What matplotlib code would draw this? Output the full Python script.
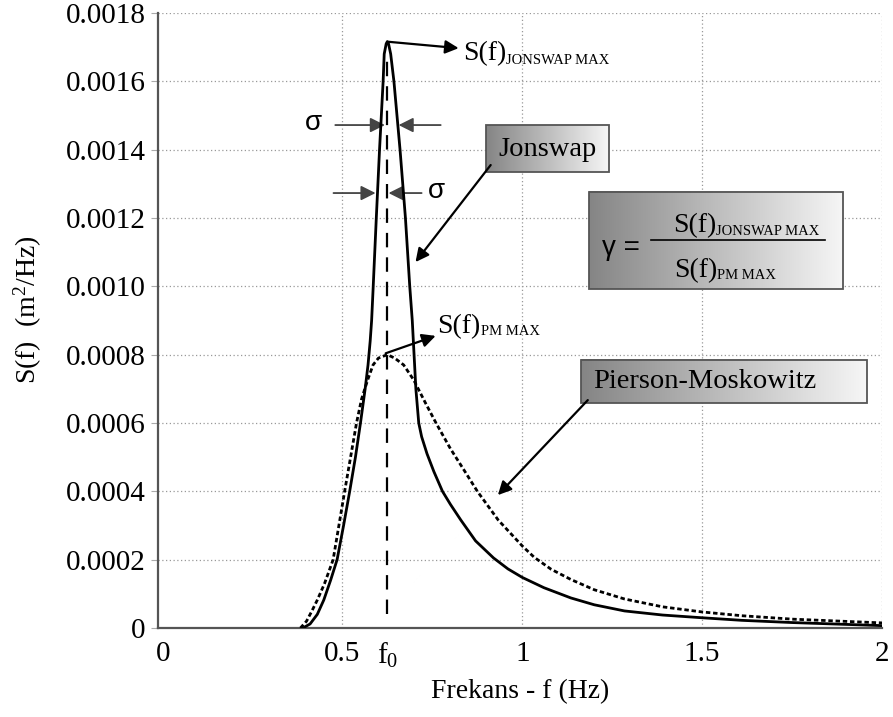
import numpy as np
import matplotlib
matplotlib.use('Agg')
import matplotlib.pyplot as plt
from matplotlib.colors import LinearSegmentedColormap
from matplotlib.patches import Rectangle
from matplotlib.transforms import offset_copy

# values
pm_f = [0.383, 0.40, 0.415, 0.43, 0.45, 0.474, 0.506, 0.539, 0.553, 0.570, 0.585, 0.60,
        0.6245, 0.645, 0.67, 0.698, 0.73, 0.76, 0.80, 0.838, 0.875, 0.933, 1.0, 1.033,
        1.08, 1.135, 1.2, 1.284, 1.39, 1.5, 1.61, 1.75, 2.0]
pm_s = [0.0, 0.00002, 0.00005, 0.000082, 0.00013, 0.0002, 0.0004, 0.0006, 0.00067,
        0.000726, 0.00077, 0.00079, 0.0008, 0.00079, 0.00077, 0.000726, 0.00066, 0.0006,
        0.000525, 0.000462, 0.0004, 0.000316, 0.00024, 0.000207, 0.000172, 0.000142,
        0.000112, 0.000085, 0.000062, 0.000047, 0.000036, 0.000026, 0.000015]

js_f = [0.39, 0.41, 0.43, 0.448, 0.467, 0.485, 0.503, 0.52, 0.536, 0.55, 0.563, 0.571,
        0.577, 0.581, 0.585, 0.594, 0.603, 0.613, 0.616, 0.6215, 0.6245, 0.628, 0.634,
        0.643, 0.660, 0.675, 0.687, 0.694, 0.699, 0.704, 0.712, 0.72, 0.735, 0.754,
        0.778, 0.80, 0.829, 0.87, 0.92, 0.96, 1.0, 1.06, 1.135, 1.2, 1.284, 1.39, 1.5,
        1.61, 1.75, 2.0]
js_s = [0.0, 0.000012, 0.00004, 0.000082, 0.00014, 0.0002, 0.0003, 0.0004, 0.0005,
        0.0006, 0.0007, 0.00077, 0.00084, 0.0009, 0.00099, 0.0012, 0.0014, 0.0016,
        0.00168, 0.00171, 0.001716, 0.00171, 0.00168, 0.0016, 0.0014, 0.0012, 0.0010,
        0.0009, 0.0008, 0.0007, 0.0006, 0.00056, 0.00051, 0.000458, 0.0004, 0.000362,
        0.000316, 0.000255, 0.000205, 0.000173, 0.000148, 0.000118, 0.000088, 0.000068,
        0.00005, 0.000038, 0.00003, 0.0000225, 0.000016, 0.000007]

f0 = 0.6245
js_max = 0.001716
pm_max = 0.0008

x_ticks = [0, 0.5, f0, 1, 1.5, 2]
x_labels = ['0', '0.5', r'f$_0$', '1', '1.5', '2']
y_ticks = [0, 0.0002, 0.0004, 0.0006, 0.0008, 0.0010, 0.0012, 0.0014, 0.0016, 0.0018]
y_labels = ['0', '0.0002', '0.0004', '0.0006', '0.0008', '0.0010', '0.0012',
            '0.0014', '0.0016', '0.0018']

plt.rcParams['font.family'] = 'Liberation Serif'
plt.rcParams['mathtext.fontset'] = 'custom'
plt.rcParams['mathtext.rm'] = 'Liberation Serif'
plt.rcParams['mathtext.it'] = 'Liberation Serif'

fig = plt.figure(figsize=(8.93, 7.17), dpi=100)
ax = fig.add_axes([0.1769, 0.1241, 0.8108, 0.8578])
ax.set_xlim(-0.013, 2)
ax.set_ylim(0, 0.0018)

ax.plot(js_f, js_s, color='black', lw=2.0, zorder=4)
ax.plot(pm_f, pm_s, color='black', lw=2.0, linestyle=(0, (1.6, 1.0)), zorder=4)
ax.plot([f0, f0], [0.00004, js_max - 0.00005], color='black', lw=1.6,
        linestyle=(0, (6.5, 4.5)), zorder=3)

ax.set_xticks(x_ticks)
ax.set_xticklabels(x_labels)
ax.set_yticks(y_ticks)
ax.set_yticklabels(y_labels)
ax.tick_params(axis='x', length=0, labelsize=21, pad=9)
ax.tick_params(axis='y', length=5, width=0.8, color='#aaaaaa', labelsize=21, pad=4)

for g in [0.5, 1, 1.5, 2]:
    ax.axvline(g, color='#999999', lw=0.9, linestyle=(0, (1, 2)), zorder=1)
for g in y_ticks[1:]:
    ax.axhline(g, color='#999999', lw=0.9, linestyle=(0, (1, 2)), zorder=1)

for side in ['top', 'right']:
    ax.spines[side].set_visible(False)
for side in ['left', 'bottom']:
    ax.spines[side].set_color('#555555')
    ax.spines[side].set_linewidth(1.6)

fig.text(0.582, 0.035, 'Frekans - f (Hz)', fontsize=20, ha='center', va='center')
fig.text(0.031, 0.568, 'S(f)  (m$^2$/Hz)', fontsize=20, ha='center', va='center',
         rotation=90)

renderer = fig.canvas.get_renderer()


def sub_label(x, y, main, sub, size=20, subsize=10.5, drop=2.5):
    t1 = ax.text(x, y, main, fontsize=size, va='baseline', ha='left', zorder=7)
    w1 = t1.get_window_extent(renderer).width * 72 / fig.dpi
    ax.text(x, y, sub, fontsize=subsize, va='baseline', ha='left', zorder=7,
            transform=offset_copy(ax.transData, fig=fig, x=w1, y=-drop, units='points'))


arrow = dict(arrowstyle='-|>', color='black', lw=1.6, mutation_scale=20,
             shrinkA=0, shrinkB=0)
gray_arrow = dict(arrowstyle='-|>', color='#444444', lw=1.3, mutation_scale=22,
                  shrinkA=0, shrinkB=0)

# peak annotations
ax.annotate('', xy=(0.823, 0.001697), xytext=(f0, js_max), arrowprops=arrow, zorder=6)
sub_label(0.835, 0.001662, 'S(f)', 'JONSWAP MAX')
ax.annotate('', xy=(0.759, 0.000855), xytext=(0.620, 0.000804), arrowprops=arrow, zorder=6)
sub_label(0.764, 0.000863, 'S(f)', 'PM MAX', drop=1.5)

# sigma markers
ax.annotate('', xy=(0.618, 0.001472), xytext=(0.480, 0.001472), arrowprops=gray_arrow)
ax.annotate('', xy=(0.656, 0.001472), xytext=(0.773, 0.001472), arrowprops=gray_arrow)
ax.text(0.419, 0.001478, 'σ', family='Liberation Sans', fontsize=20, ha='center',
        va='center')
ax.annotate('', xy=(0.592, 0.001273), xytext=(0.475, 0.001273), arrowprops=gray_arrow)
ax.annotate('', xy=(0.628, 0.001273), xytext=(0.720, 0.001273), arrowprops=gray_arrow)
ax.text(0.762, 0.001280, 'σ', family='Liberation Sans', fontsize=20, ha='center',
        va='center')

# gradient boxes
grad = LinearSegmentedColormap.from_list('grad', ['#858585', '#f6f6f6'])
ramp = np.linspace(0, 1, 256)[None, :]


def grad_box(x0, x1, y0, y1):
    ax.imshow(ramp, cmap=grad, extent=[x0, x1, y0, y1], aspect='auto',
              interpolation='bilinear', zorder=5)
    ax.add_patch(Rectangle((x0, y0), x1 - x0, y1 - y0, fill=False,
                           edgecolor='#555555', lw=1.3, zorder=6))


grad_box(0.898, 1.241, 0.001335, 0.001472)
ax.text(1.071, 0.001381, 'Jonswap', fontsize=20.5, ha='center', va='baseline', zorder=7)
ax.annotate('', xy=(0.703, 0.001071), xytext=(0.912, 0.001355), arrowprops=arrow, zorder=6)

grad_box(1.184, 1.892, 0.000992, 0.001277)
ax.text(1.222, 0.001092, 'γ =', family='Liberation Sans', fontsize=20, va='baseline',
        zorder=7)
ax.plot([1.358, 1.841], [0.001137, 0.001137], color='black', lw=1.2, zorder=7)
sub_label(1.418, 0.00116, 'S(f)', 'JONSWAP MAX')
sub_label(1.422, 0.001028, 'S(f)', 'PM MAX', drop=1.5)

grad_box(1.163, 1.957, 0.000658, 0.000785)
ax.text(1.196, 0.000701, 'Pierson-Moskowitz', fontsize=20.5, ha='left', va='baseline',
        zorder=7)
ax.annotate('', xy=(0.932, 0.000389), xytext=(1.182, 0.000667), arrowprops=arrow, zorder=6)

ax.set_xlim(-0.013, 2)
ax.set_ylim(0, 0.0018)

fig.savefig('out.png', dpi=100)
